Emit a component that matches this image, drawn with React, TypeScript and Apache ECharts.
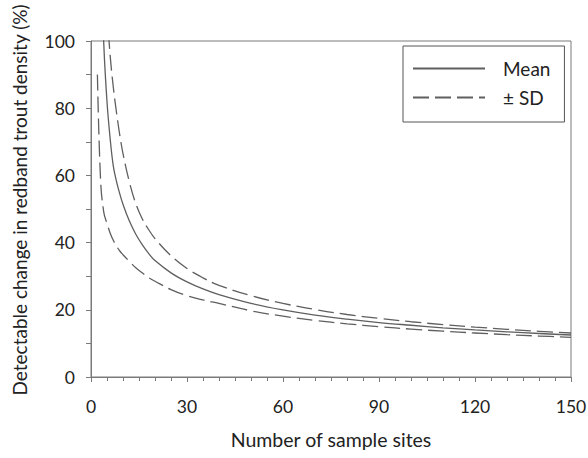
import React, { useEffect, useRef } from 'react';
import * as echarts from 'echarts';

// Number of sample sites (x values)
const sampleSites = [2, 3, 4, 5, 6, 7, 8, 9, 10, 12, 14, 16, 18, 20, 25, 30, 35, 40, 50, 60, 70, 80, 90, 100, 110, 120, 130, 140, 150];
// Detectable change (%)
const meanChange = [null, 128, 99, 81.9, 70.8, 62.6, 58.1, 54.5, 51.4, 46.4, 42.5, 39.4, 36.8, 34.65, 31.0, 28.3, 26.2, 24.5, 21.9, 19.95, 18.4, 17.2, 16.2, 15.4, 14.65, 14.0, 13.45, 12.95, 12.5];
const upperSD = [null, null, null, 109, 95.5, 86, 78.5, 72, 66.5, 58, 51.6, 47.1, 43.9, 41.2, 36.1, 32.3, 29.5, 27.3, 24.2, 21.9, 20.1, 18.6, 17.45, 16.45, 15.6, 14.85, 14.2, 13.6, 13.1];
const lowerSD = [90, 58.5, 49, 45.7, 42.8, 40.6, 38.9, 37.5, 36.4, 34.4, 32.5, 31.0, 29.6, 28.5, 26.0, 24.2, 22.95, 21.9, 19.7, 18.1, 16.85, 15.83, 14.98, 14.26, 13.64, 13.1, 12.6, 12.19, 11.8];

const xTicks = [0, 30, 60, 90, 120, 150];
const yTicks = [0, 20, 40, 60, 80, 100];

const seriesNames = { mean: 'Mean', sd: '± SD' };

const FONT = 'Lato';
const AXIS_COLOR = '#7a7a7a';
const LINE_COLOR = '#5f5f5f';
const TEXT_COLOR = '#222222';

function pairs(vals: (number | null)[]) {
  return sampleSites.map((n, i) => [n, vals[i]]);
}

export default function App() {
  const ref = useRef<HTMLDivElement>(null);
  useEffect(() => {
    if (!ref.current) return;
    const chart = echarts.init(ref.current, undefined, { renderer: 'svg' });
    const lineBase = {
      type: 'line' as const,
      showSymbol: false,
      symbol: 'none',
      smooth: 0.4,
      clip: true,
      connectNulls: false,
    };
    chart.setOption({
      animation: false,
      backgroundColor: '#ffffff',
      grid: {
        left: 91,
        right: 17,
        top: 41,
        bottom: 81,
        containLabel: false,
        outerBoundsMode: 'none',
        show: true,
        borderColor: AXIS_COLOR,
        borderWidth: 1,
        backgroundColor: 'transparent',
      },
      legend: {
        data: [seriesNames.mean, seriesNames.sd],
        orient: 'vertical',
        left: 403,
        top: 46,
        itemWidth: 72,
        itemHeight: 20,
        itemGap: 10,
        padding: [13, 14, 15, 9],
        borderColor: '#555555',
        borderWidth: 1,
        backgroundColor: '#ffffff',
        selectedMode: false,
        itemStyle: { color: 'rgba(0,0,0,0)', borderColor: 'rgba(0,0,0,0)', borderWidth: 0 },
        textStyle: { fontFamily: FONT, fontSize: 19, color: TEXT_COLOR, padding: [0, 0, 0, 13] },
      },
      xAxis: {
        type: 'value',
        min: xTicks[0],
        max: xTicks[xTicks.length - 1],
        interval: 30,
        name: 'Number of sample sites',
        nameLocation: 'middle',
        nameGap: 52,
        nameTextStyle: { fontFamily: FONT, fontSize: 19.5, color: TEXT_COLOR },
        axisLine: { show: true, lineStyle: { color: AXIS_COLOR, width: 1 } },
        axisTick: { show: true, inside: false, length: 5, lineStyle: { color: AXIS_COLOR } },
        minorTick: { show: true, splitNumber: 6, length: 4, lineStyle: { color: AXIS_COLOR } },
        axisLabel: { margin: 20, fontFamily: FONT, fontSize: 17.5, color: TEXT_COLOR },
        splitLine: { show: false },
      },
      yAxis: {
        type: 'value',
        min: yTicks[0],
        max: yTicks[yTicks.length - 1],
        interval: 20,
        name: 'Detectable change in redband trout density (%)',
        nameLocation: 'middle',
        nameGap: 62,
        nameTextStyle: { fontFamily: FONT, fontSize: 19, color: TEXT_COLOR, padding: [0, 0, 0, 18] },
        axisLine: { show: true, lineStyle: { color: AXIS_COLOR, width: 1 } },
        axisTick: { show: true, inside: false, length: 5, lineStyle: { color: AXIS_COLOR } },
        minorTick: { show: true, splitNumber: 2, length: 5, lineStyle: { color: AXIS_COLOR } },
        axisLabel: { margin: 16, fontFamily: FONT, fontSize: 17.5, color: TEXT_COLOR },
        splitLine: { show: false },
      },
      series: [
        {
          ...lineBase,
          name: seriesNames.mean,
          data: pairs(meanChange),
          lineStyle: { color: LINE_COLOR, width: 1.3, type: 'solid' },
          itemStyle: { color: LINE_COLOR },
        },
        {
          ...lineBase,
          name: seriesNames.sd,
          data: pairs(upperSD),
          lineStyle: { color: LINE_COLOR, width: 1.3, type: [16, 6] },
          itemStyle: { color: LINE_COLOR },
        },
        {
          ...lineBase,
          name: seriesNames.sd,
          data: pairs(lowerSD),
          lineStyle: { color: LINE_COLOR, width: 1.3, type: [16, 6] },
          itemStyle: { color: LINE_COLOR },
        },
      ],
    });
    return () => chart.dispose();
  }, []);
  return (
    <div
      ref={ref}
      style={{ position: 'fixed', left: 0, top: 0, width: 588, height: 458, background: '#fff' }}
    />
  );
}
